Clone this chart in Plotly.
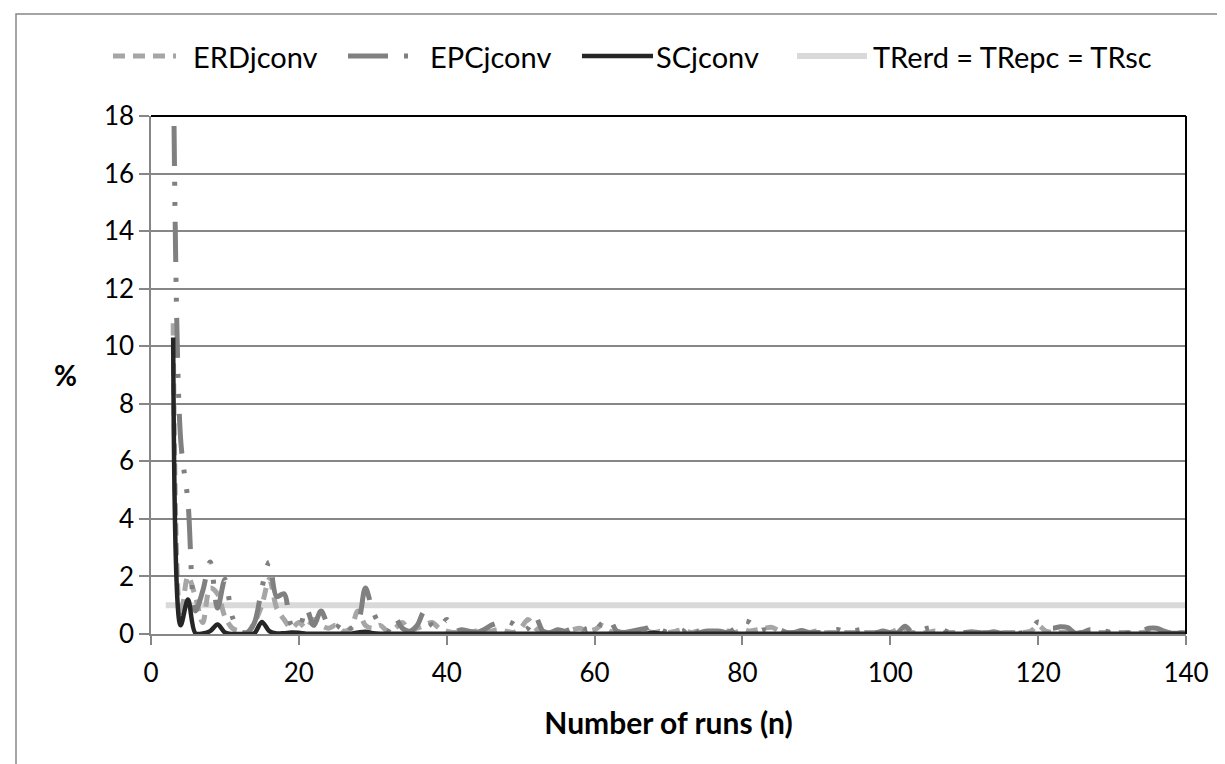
import plotly.graph_objects as go

# ---------------- data ----------------
runs = list(range(3, 141))
tr_runs = [2, 140]
tr_values = [1.0, 1.0]

erd_values = [
    10.8, 0.6, 2.0, 1.3, 0.4, 1.6, 1.4, 0.6, 0.2, 0.1,      # 3-12
    0.05, 0.4, 1.0, 1.9, 0.9, 0.5, 0.2, 0.4, 0.2, 0.5,      # 13-22
    0.3, 0.2, 0.3, 0.1, 0.2, 0.8, 0.3, 0.2, 0.3, 0.1,       # 23-32
    0.2, 0.4, 0.1, 0.2, 0.3, 0.4, 0.2, 0.1, 0.05, 0.1,      # 33-42
    0.05, 0.1, 0.05, 0.1, 0.15, 0.1, 0.05, 0.2, 0.5, 0.2,   # 43-52
    0.05, 0.1, 0.05, 0.1, 0.15, 0.2, 0.1, 0.15, 0.3, 0.1,   # 53-62
    0.05, 0.1, 0.05, 0.05, 0.1, 0.05, 0.1, 0.05, 0.1, 0.15, # 63-72
    0.05, 0.1, 0.05, 0.05, 0.05, 0.1, 0.05, 0.15, 0.1, 0.15,# 73-82
    0.2, 0.23, 0.1, 0.05, 0.05, 0.05, 0.05, 0.1, 0.05, 0.05,# 83-92
    0.05, 0.05, 0.05, 0.05, 0.05, 0.05, 0.05, 0.05, 0.15, 0.1, # 93-102
    0.05, 0.05, 0.05, 0.1, 0.05, 0.05, 0.05, 0.05, 0.05, 0.05, # 103-112
    0.05, 0.05, 0.05, 0.05, 0.05, 0.05, 0.1, 0.3, 0.1, 0.05,   # 113-122
    0.05, 0.05, 0.05, 0.05, 0.05, 0.05, 0.05, 0.05, 0.05, 0.05, # 123-132
    0.05, 0.05, 0.1, 0.05, 0.05, 0.05, 0.05, 0.05,             # 133-140
]

epc_values = [
    21.0, 6.8, 4.6, 0.8, 1.5, 2.5, 0.9, 1.9, 0.6, 0.1,       # 3-12
    0.05, 0.4, 1.6, 2.5, 1.3, 1.4, 0.3, 0.2, 0.9, 0.3,       # 13-22
    0.8, 0.3, 0.2, 0.5, 0.2, 0.4, 1.6, 0.8, 0.3, 0.1,        # 23-32
    0.55, 0.2, 0.1, 0.3, 0.8, 0.3, 0.2, 0.5, 0.1, 0.15,      # 33-42
    0.1, 0.05, 0.15, 0.3, 0.4, 0.45, 0.35, 0.1, 0.2, 0.6,    # 43-52
    0.1, 0.05, 0.15, 0.1, 0.2, 0.3, 0.15, 0.45, 0.3, 0.5,    # 53-62
    0.1, 0.05, 0.1, 0.15, 0.2, 0.3, 0.15, 0.05, 0.1, 0.1,    # 63-72
    0.35, 0.05, 0.1, 0.1, 0.1, 0.05, 0.2, 0.45, 0.4, 0.1,    # 73-82
    0.15, 0.1, 0.15, 0.05, 0.05, 0.12, 0.05, 0.05, 0.05, 0.12, # 83-92
    0.15, 0.05, 0.1, 0.15, 0.15, 0.05, 0.1, 0.05, 0.05, 0.27,  # 93-102
    0.05, 0.1, 0.2, 0.23, 0.15, 0.05, 0.05, 0.05, 0.08, 0.05,  # 103-112
    0.03, 0.08, 0.03, 0.12, 0.03, 0.05, 0.15, 0.42, 0.25, 0.2, # 113-122
    0.25, 0.22, 0.03, 0.05, 0.15, 0.05, 0.1, 0.05, 0.05, 0.03, # 123-132
    0.05, 0.1, 0.2, 0.2, 0.1, 0.03, 0.03, 0.02,                # 133-140
]

sc_values = [
    10.3, 0.3, 1.2, 0.03, 0.02, 0.1, 0.33, 0.05, 0.0, 0.0,   # 3-12
    0.0, 0.03, 0.42, 0.1, 0.02, 0.03, 0.05, 0.04, 0.01, 0.01, # 13-22
    0.01, 0.01, 0.01, 0.01, 0.01, 0.05, 0.08, 0.03, 0.01, 0.01, # 23-32
    0.01, 0.01, 0.01, 0.01, 0.01, 0.01, 0.01, 0.01, 0.01, 0.01, # 33-42
    0.01, 0.01, 0.01, 0.01, 0.01, 0.01, 0.01, 0.01, 0.01, 0.01, # 43-52
    0.01, 0.01, 0.01, 0.01, 0.01, 0.01, 0.01, 0.01, 0.01, 0.01, # 53-62
    0.01, 0.01, 0.01, 0.01, 0.02, 0.04, 0.02, 0.01, 0.01, 0.01, # 63-72
    0.01, 0.01, 0.01, 0.01, 0.01, 0.01, 0.01, 0.01, 0.01, 0.01, # 73-82
    0.01, 0.01, 0.01, 0.01, 0.01, 0.01, 0.01, 0.01, 0.01, 0.01, # 83-92
    0.01, 0.01, 0.01, 0.01, 0.01, 0.01, 0.01, 0.01, 0.01, 0.01, # 93-102
    0.01, 0.01, 0.01, 0.01, 0.01, 0.01, 0.01, 0.01, 0.01, 0.01, # 103-112
    0.01, 0.01, 0.01, 0.01, 0.01, 0.01, 0.01, 0.01, 0.01, 0.01, # 113-122
    0.01, 0.01, 0.01, 0.01, 0.01, 0.01, 0.01, 0.01, 0.01, 0.01, # 123-132
    0.01, 0.01, 0.01, 0.01, 0.01, 0.01, 0.01, 0.01,             # 133-140
]

series_names = ["ERDjconv", "EPCjconv", "SCjconv", "TRerd = TRepc = TRsc"]
x_ticks = [0, 20, 40, 60, 80, 100, 120, 140]
y_ticks = [0, 2, 4, 6, 8, 10, 12, 14, 16, 18]

# ---------------- styles ----------------
W, H = 1225, 764
L, R, T, B = 143, 47, 108, 138
PW, PH = W - L - R, H - T - B
FONT = "Lato"
GRID = "#868686"

C_ERD, C_EPC, C_SC, C_TR = "#a6a6a6", "#808080", "#262626", "#d9d9d9"
D_ERD = "12px,8px"
D_EPC = "40px,16px,4px,16px,4px,16px"


def px_x(p):
    return (p - L) / PW


def px_y(p):
    return (H - B - p) / PH


fig = go.Figure()

fig.add_trace(go.Scatter(x=tr_runs, y=tr_values, mode="lines", name=series_names[3],
                         line=dict(color=C_TR, width=6), showlegend=False))
fig.add_trace(go.Scatter(x=runs, y=erd_values, mode="lines", name=series_names[0],
                         line=dict(color=C_ERD, width=5, dash=D_ERD, shape="spline", smoothing=0.9),
                         showlegend=False))
fig.add_trace(go.Scatter(x=runs, y=epc_values, mode="lines", name=series_names[1],
                         line=dict(color=C_EPC, width=5, dash=D_EPC, shape="spline", smoothing=0.9),
                         showlegend=False))
fig.add_trace(go.Scatter(x=runs, y=sc_values, mode="lines", name=series_names[2],
                         line=dict(color=C_SC, width=4.5, shape="spline", smoothing=0.9),
                         showlegend=False))

shapes = []
# outer chart border
shapes.append(dict(type="rect", xref="paper", yref="paper",
                   x0=px_x(8), x1=px_x(1240), y0=px_y(780), y1=px_y(6),
                   line=dict(color=GRID, width=1.5), fillcolor="rgba(0,0,0,0)", layer="below"))
# black top and right plot border
shapes.append(dict(type="line", xref="paper", yref="paper", x0=0, x1=1, y0=1, y1=1,
                   line=dict(color="#000000", width=2), layer="above"))
shapes.append(dict(type="line", xref="paper", yref="paper", x0=1, x1=1, y0=0, y1=1,
                   line=dict(color="#000000", width=2), layer="above"))

# manual legend
leg_y = px_y(48)
leg_items = [
    (105, 168, 183, C_ERD, 5, D_ERD),
    (340, 410, 420, C_EPC, 5, D_EPC),
    (574, 645, 646, C_SC, 4.5, "solid"),
    (789, 859, 863, C_TR, 6, "solid"),
]
annotations = []
for (sx0, sx1, tx, col, wd, ds), name in zip(leg_items, series_names):
    shapes.append(dict(type="line", xref="paper", yref="paper",
                       x0=px_x(sx0), x1=px_x(sx1), y0=leg_y, y1=leg_y,
                       line=dict(color=col, width=wd, dash=ds)))
    annotations.append(dict(xref="paper", yref="paper", x=px_x(tx), y=leg_y,
                            xanchor="left", yanchor="middle", showarrow=False,
                            text=name, font=dict(family=FONT, size=29, color="#000000")))

annotations.append(dict(xref="paper", yref="paper", x=px_x(57), y=0.5,
                        xanchor="center", yanchor="middle", showarrow=False,
                        text="<b>%</b>", font=dict(family=FONT, size=28, color="#000000")))

fig.update_layout(
    width=W, height=H, autosize=False,
    margin=dict(l=L, r=R, t=T, b=B, pad=0),
    paper_bgcolor="white", plot_bgcolor="white",
    font=dict(family=FONT, size=26, color="#000000"),
    shapes=shapes, annotations=annotations,
    xaxis=dict(range=[0, 140], tickvals=x_ticks, ticktext=[str(v) for v in x_ticks],
               showgrid=False, zeroline=False, showline=True, linecolor=GRID, linewidth=1.5,
               ticks="outside", ticklen=9, tickcolor=GRID, tickwidth=1.5,
               ticklabelstandoff=6,
               tickfont=dict(family=FONT, size=26, color="#000000"),
               title=dict(text="<b>Number of runs (n)</b>", standoff=26,
                          font=dict(family=FONT, size=30, color="#000000"))),
    yaxis=dict(range=[0, 18], tickvals=y_ticks, ticktext=[str(v) for v in y_ticks],
               showgrid=True, gridcolor=GRID, gridwidth=1.5, zeroline=False,
               showline=True, linecolor=GRID, linewidth=1.5,
               ticks="outside", ticklen=10, tickcolor=GRID, tickwidth=1.5,
               tickfont=dict(family=FONT, size=26, color="#000000")),
)

fig.write_html("out.html")
